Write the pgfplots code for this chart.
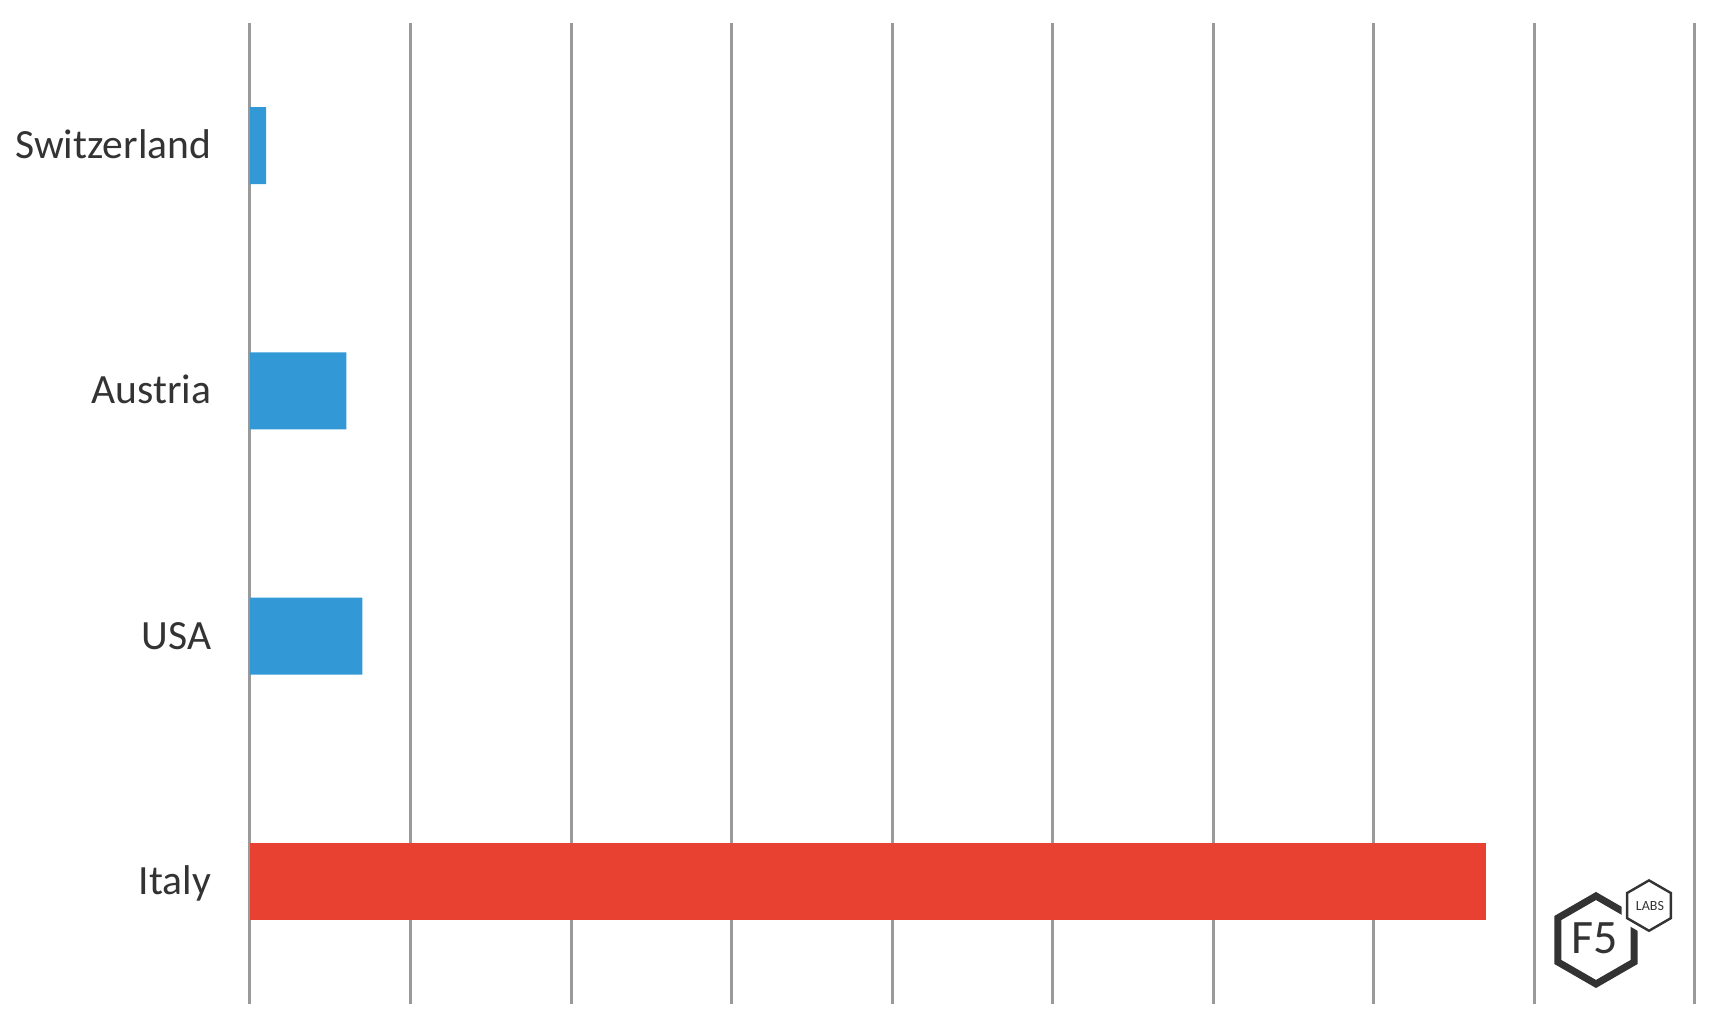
\documentclass[border=0pt]{standalone}
\usepackage{pgfplots}
\pgfplotsset{compat=1.18}
\usepackage{fontspec}
\setmainfont{Carlito}
\definecolor{barblue}{HTML}{3399D6}
\definecolor{barred}{HTML}{E84132}
\definecolor{gridgray}{HTML}{9A9A9A}
\definecolor{labelgray}{HTML}{333333}
\begin{document}
\begin{tikzpicture}
% 1 px of the reference = 0.25pt
\useasboundingbox (-62.5pt,-6pt) rectangle (366.75pt,251pt);
\begin{axis}[
    at={(0,0)}, anchor=south west,
    scale only axis,
    width=361.25pt, height=245.25pt,
    xbar, bar width=19.25pt,
    xmin=0, xmax=9,
    xtick={0,1,...,9}, xticklabels={},
    ymin=-0.5, ymax=3.5, y dir=reverse,
    ytick={0,1,2,3},
    yticklabels={Switzerland,Austria,USA,Italy},
    axis line style={draw=none},
    major tick length=0pt,
    xmajorgrids,
    grid style={draw=gridgray, line width=0.75pt},
    y tick label style={font=\fontsize{10.4}{12}\selectfont, text=labelgray,
        anchor=east, inner sep=0pt, xshift=-9.5pt,
        text height=0.9em, text depth=0.256em},
]
\addplot[fill=barblue, draw=none, bar shift=0pt] coordinates {(0.1,0) (0.6,1) (0.7,2)};
\addplot[fill=barred, draw=none, bar shift=0pt] coordinates {(7.7,3)};
\end{axis}
% F5 Labs logo
\begin{scope}[color=labelgray]
\draw[line width=1.75pt, line join=miter, shift={(336.5pt,16pt)}]
  (90:11pt) -- (150:11pt) -- (210:11pt) -- (270:11pt) -- (330:11pt) -- (30:11pt) -- cycle;
\fill[white, draw=white, line width=2.8pt, shift={(349.75pt,24.6pt)}]
  (90:6.3pt) -- (150:6.3pt) -- (210:6.3pt) -- (270:6.3pt) -- (330:6.3pt) -- (30:6.3pt) -- cycle;
\draw[line width=0.6pt, shift={(349.75pt,24.6pt)}]
  (90:6.3pt) -- (150:6.3pt) -- (210:6.3pt) -- (270:6.3pt) -- (330:6.3pt) -- (30:6.3pt) -- cycle;
\node[anchor=base, inner sep=0pt, text=labelgray] at (336.25pt,12.5pt)
  {\fontsize{12}{12}\selectfont F5};
\node[anchor=base, inner sep=0pt, text=labelgray] at (350pt,23.3pt)
  {\fontsize{3.5}{4}\selectfont LABS};
\end{scope}
\end{tikzpicture}
\end{document}
